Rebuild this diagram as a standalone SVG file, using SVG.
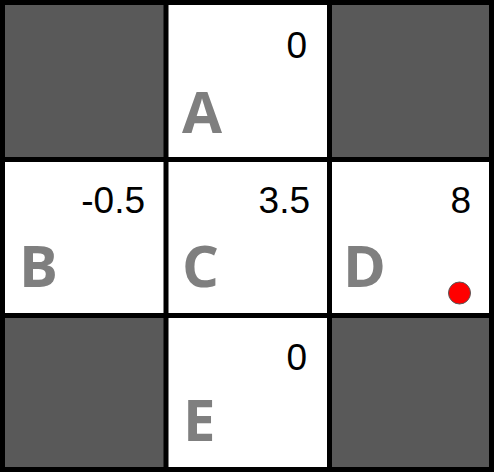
<svg xmlns="http://www.w3.org/2000/svg" width="494" height="472" viewBox="0 0 494 472">
<style>
.blocked{fill:#595959}
.open{fill:#ffffff}
.lbl{font-family:"Open Sans","Liberation Sans",sans-serif;font-weight:bold;font-size:58px;fill:#7f7f7f}
.val{font-family:"Liberation Sans",Arial,sans-serif;font-size:37px;fill:#000000;text-anchor:end}
.grid{stroke:#000000;stroke-width:5;fill:none}
</style>
<rect x="0" y="0" width="494" height="472" fill="#ffffff"/>
<g id="cell-tl"><rect class="blocked" x="2" y="2" width="164" height="157"/></g>
<g id="cell-tr"><rect class="blocked" x="329" y="2" width="163" height="157"/></g>
<g id="cell-bl"><rect class="blocked" x="2" y="315" width="164" height="155"/></g>
<g id="cell-br"><rect class="blocked" x="329" y="315" width="163" height="155"/></g>
<g id="A"><rect class="open" x="166" y="2" width="163" height="157"/><text class="lbl" x="182" y="133">A</text><text class="val" x="307" y="58">0</text></g>
<g id="B"><rect class="open" x="2" y="159" width="164" height="156"/><text class="lbl" x="19" y="287">B</text><text class="val" x="145" y="213">-0.5</text></g>
<g id="C"><rect class="open" x="166" y="159" width="163" height="156"/><text class="lbl" x="182" y="287">C</text><text class="val" x="310" y="213">3.5</text></g>
<g id="D"><rect class="open" x="329" y="159" width="163" height="156"/><text class="lbl" x="343" y="287">D</text><text class="val" x="471" y="213">8</text><circle cx="459.5" cy="293" r="11" fill="#ff0000" stroke="#595959" stroke-width="1"/></g>
<g id="E"><rect class="open" x="166" y="315" width="163" height="155"/><text class="lbl" x="183" y="441">E</text><text class="val" x="307" y="370">0</text></g>
<g id="grid" class="grid">
<rect x="2.5" y="2.5" width="489" height="467"/>
<line x1="166" y1="0" x2="166" y2="472"/>
<line x1="329.5" y1="0" x2="329.5" y2="472"/>
<line x1="0" y1="159.5" x2="494" y2="159.5"/>
<line x1="0" y1="315.5" x2="494" y2="315.5"/>
</g>
</svg>
